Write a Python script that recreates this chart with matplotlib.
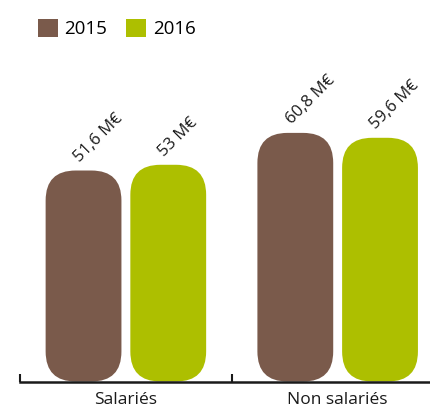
import numpy as np
import matplotlib
matplotlib.use("Agg")
import matplotlib.pyplot as plt
from matplotlib.patches import FancyBboxPatch, Patch

categories = ["Salariés", "Non salariés"]
years = ["2015", "2016"]
values_2015 = [51.6, 60.8]
values_2016 = [53.0, 59.6]
labels_2015 = ["51,6 M€", "60,8 M€"]
labels_2016 = ["53 M€", "59,6 M€"]

colors = ["#7a5a4b", "#adbf00"]

plt.rcParams['font.family'] = ['Open Sans', 'DejaVu Sans']

W, H = 430, 408
fig = plt.figure(figsize=(W / 100, H / 100), dpi=100)
ax = fig.add_axes([20 / W, 26.5 / H, 410 / W, 381.5 / H])
ax.set_xlim(-0.5, 1.436)
ax.set_ylim(0, 93.3)

x = np.arange(len(categories))
bw = 0.358
off = 0.2

# rounding: pixels -> data units (quadratic corners look smaller, so go big)
xpx = 410 / (1.436 + 0.5)
ypx = 381.5 / 93.3
aspect = xpx / ypx
rad = 30 / xpx

for vals, labs, col, sgn in [(values_2015, labels_2015, colors[0], -1),
                             (values_2016, labels_2016, colors[1], 1)]:
    bars = ax.bar(x + sgn * off, vals, bw, color=col)
    for b, lab in zip(bars, labs):
        bx, by = b.get_x(), b.get_y()
        w, h = b.get_width(), b.get_height()
        b.remove()
        p = FancyBboxPatch((bx, by), w, h,
                           boxstyle="round,pad=0,rounding_size=%f" % rad,
                           mutation_aspect=aspect,
                           facecolor=col, edgecolor="none", zorder=2)
        ax.add_patch(p)
        ax.annotate(lab, xy=(bx + w / 2, h), xytext=(-4, 8),
                    textcoords="offset pixels", rotation=45,
                    rotation_mode="anchor", ha="left", va="baseline",
                    fontsize=12, color="#1a1a1a")

for s in ["top", "right", "left"]:
    ax.spines[s].set_visible(False)
ax.spines["bottom"].set_linewidth(1.8)
ax.spines["bottom"].set_color("#1a1a1a")
ax.set_yticks([])
ax.set_xticks(x)
ax.set_xticklabels(categories, fontsize=12.5, color="#1a1a1a")
ax.tick_params(axis="x", which="major", length=0, pad=7.5)
ax.set_xticks([-0.5, 0.5], minor=True)
ax.tick_params(axis="x", which="minor", direction="in", length=6, width=1.5,
               color="#1a1a1a")

handles = [Patch(facecolor=c, edgecolor="none") for c in colors]
fig.legend(handles, years, loc="upper left", bbox_to_anchor=(21 / W, 1 - 2 / H),
           ncol=2, frameon=False, fontsize=13.5, handlelength=1.07,
           handleheight=1.07, handletextpad=0.35, columnspacing=1.0)

fig.savefig("out.png", dpi=100)
